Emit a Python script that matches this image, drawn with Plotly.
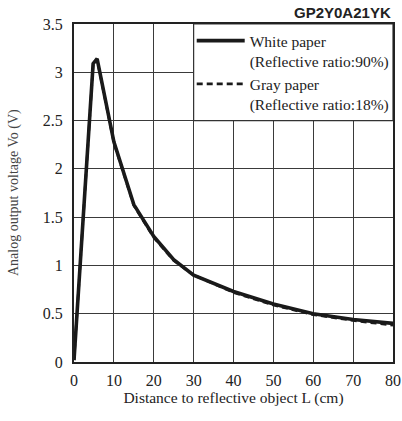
import plotly.graph_objects as go

# Data
white_x = [0, 4.8, 5.8, 10, 15, 20, 25, 30, 40, 50, 60, 70, 80]
white_y = [0.02, 3.09, 3.14, 2.28, 1.63, 1.30, 1.06, 0.90, 0.73, 0.60, 0.50, 0.44, 0.40]
gray_x = [0, 4.8, 5.8, 10, 15, 20, 25, 30, 40, 50, 60, 70, 80]
gray_y = [0.02, 3.08, 3.13, 2.27, 1.62, 1.29, 1.05, 0.90, 0.72, 0.59, 0.49, 0.43, 0.38]
x_ticks = [0, 10, 20, 30, 40, 50, 60, 70, 80]
y_ticks = [0, 0.5, 1, 1.5, 2, 2.5, 3, 3.5]
y_tick_text = ["0", "0.5", "1", "1.5", "2", "2.5", "3", "3.5"]

serif = "Liberation Serif, Times New Roman, serif"

fig = go.Figure()
fig.add_trace(go.Scatter(
    x=white_x, y=white_y, mode="lines",
    name="White paper<br>(Reflective ratio:90%)",
    line=dict(color="#1a1a1a", width=3.6),
))
fig.add_trace(go.Scatter(
    x=gray_x, y=gray_y, mode="lines",
    name="Gray paper<br>(Reflective ratio:18%)",
    line=dict(color="#1a1a1a", width=2.6, dash="6px,4px"),
))

fig.add_shape(type="rect", xref="x", yref="y", x0=30, x1=80, y0=2.5, y1=3.5,
              fillcolor="white", line=dict(color="#333333", width=1.2), layer="between")

fig.update_layout(
    width=402, height=421,
    margin=dict(l=74, r=9, t=24, b=59, autoexpand=False),
    paper_bgcolor="white", plot_bgcolor="white",
    font=dict(family=serif, size=15, color="#222222"),
    showlegend=True,
    legend=dict(
        x=0.369, y=1.0, xanchor="left", yanchor="top",
        bgcolor="rgba(0,0,0,0)", borderwidth=0,
        font=dict(family=serif, size=15.5, color="#222222"),
        valign="top", tracegroupgap=0,
        itemwidth=48,
    ),
    xaxis=dict(
        range=[0, 80], tickvals=x_ticks, showgrid=True, automargin=False,
        gridcolor="#3a3a3a", gridwidth=1.3,
        showline=True, linecolor="#222222", linewidth=2, mirror=True,
        zeroline=False, ticks="", ticklabelstandoff=3,
        tickfont=dict(family=serif, size=16, color="#222222"),
        title=dict(text="Distance to reflective object L (cm)",
                   font=dict(family=serif, size=15.5, color="#222222"), standoff=3),
    ),
    yaxis=dict(
        range=[0, 3.5], tickvals=y_ticks, ticktext=y_tick_text, showgrid=True, automargin=False,
        gridcolor="#3a3a3a", gridwidth=1.3,
        showline=True, linecolor="#222222", linewidth=2, mirror=True,
        zeroline=False, ticks="", ticklabelstandoff=6,
        tickfont=dict(family=serif, size=16, color="#222222"),
    ),
    annotations=[
        dict(text="<b>GP2Y0A21YK</b>", xref="paper", yref="paper", x=1.0, y=1.0,
             xanchor="right", yanchor="bottom", yshift=1, showarrow=False,
             font=dict(family="Liberation Sans, Arial, sans-serif", size=15, color="#222222"),
             ),
        dict(text="Analog output voltage Vo (V)", xref="paper", yref="paper",
             x=0, xshift=-60, y=0.5, textangle=-90, showarrow=False,
             xanchor="center", yanchor="middle",
             font=dict(family=serif, size=14, color="#444444")),
    ],
)

fig.write_html("out.html")
